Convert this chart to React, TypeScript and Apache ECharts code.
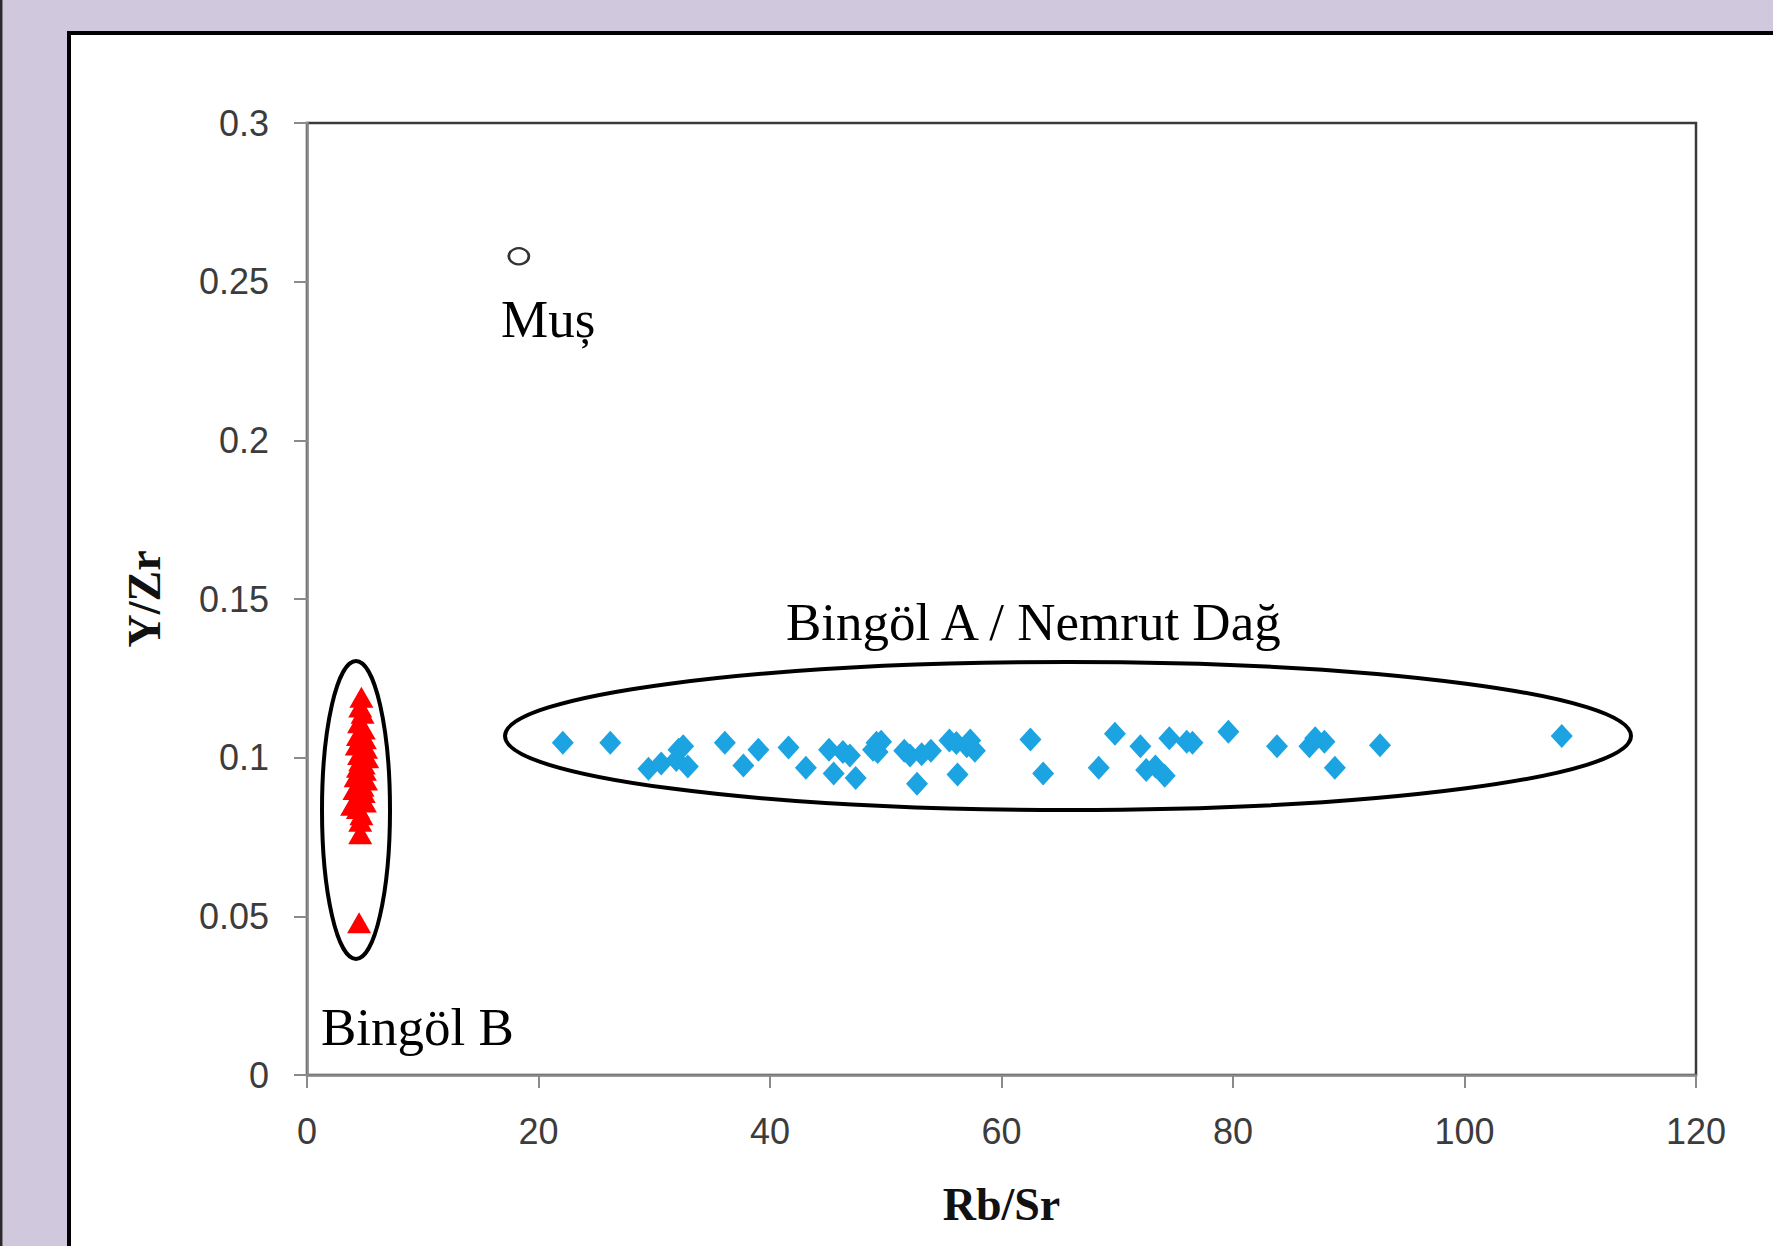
import React, { useEffect, useRef } from "react";
import * as echarts from "echarts";

// ---- data ----
const xTickValues = [0, 20, 40, 60, 80, 100, 120];
const yTickValues = [0, 0.05, 0.1, 0.15, 0.2, 0.25, 0.3];

const musX = [18.3];
const musY = [0.258];

const bingolBX = [4.7, 4.6, 4.8, 4.5, 4.9, 4.6, 4.4, 5.0, 4.7, 4.3, 5.1, 4.8, 4.5, 5.2, 4.6, 4.9, 4.4, 5.0, 4.7, 4.2, 5.1, 4.5, 4.8, 4.1, 4.9, 4.6, 4.3, 5.0, 3.9, 4.4, 4.7, 4.6, 4.6, 4.5];
const bingolBY = [0.119, 0.116, 0.114, 0.111, 0.109, 0.108, 0.107, 0.106, 0.105, 0.104, 0.103, 0.102, 0.101, 0.100, 0.099, 0.098, 0.097, 0.096, 0.095, 0.094, 0.093, 0.092, 0.091, 0.090, 0.089, 0.088, 0.087, 0.086, 0.085, 0.084, 0.082, 0.080, 0.076, 0.048];

const bingolAX = [22.1, 26.2, 29.5, 30.6, 32.1, 32.5, 31.9, 32.9, 36.1, 37.7, 39.0, 41.6, 43.1, 45.1, 45.5, 46.3, 46.9, 47.4, 48.9, 49.2, 49.6, 49.3, 51.6, 52.1, 52.7, 53.1, 53.9, 55.5, 56.1, 56.2, 57.0, 57.3, 57.7, 62.5, 63.6, 68.4, 69.8, 72.0, 72.5, 73.3, 74.1, 74.5, 76.0, 76.5, 79.6, 83.8, 86.6, 87.1, 87.9, 88.8, 92.7, 108.4];
const bingolAY = [0.1047, 0.1047, 0.0965, 0.0982, 0.1025, 0.1036, 0.0993, 0.0972, 0.1047, 0.0975, 0.1025, 0.1032, 0.0968, 0.1025, 0.0950, 0.1018, 0.1007, 0.0936, 0.1025, 0.1047, 0.1050, 0.1018, 0.1022, 0.1007, 0.0918, 0.1011, 0.1022, 0.1054, 0.1046, 0.0947, 0.1036, 0.1054, 0.1022, 0.1057, 0.0950, 0.0968, 0.1075, 0.1036, 0.0961, 0.0972, 0.0943, 0.1061, 0.1050, 0.1047, 0.1082, 0.1036, 0.1036, 0.1061, 0.1050, 0.0968, 0.1039, 0.1068];

const zip = (xs: number[], ys: number[]) => xs.map((x, i) => [x, ys[i]]);

export default function App() {
  const ref = useRef<HTMLDivElement>(null);
  useEffect(() => {
    if (!ref.current) return;
    const chart = echarts.init(ref.current, undefined, { renderer: "svg" });
    const labelFont = "'Liberation Sans', Arial, sans-serif";
    const serif = "'Liberation Serif', 'Times New Roman', serif";
    chart.setOption({
      animation: false,
      backgroundColor: "#d0c8dc",
      grid: {
        left: 307,
        top: 123,
        width: 1389,
        height: 952,
        show: true,
        backgroundColor: "#ffffff",
        borderColor: "#3a3a3a",
        borderWidth: 2.5,
        containLabel: false,
      },
      xAxis: {
        type: "value",
        min: xTickValues[0],
        max: xTickValues[xTickValues.length - 1],
        interval: 20,
        name: "Rb/Sr",
        nameLocation: "middle",
        nameGap: 106,
        nameTextStyle: { fontFamily: serif, fontWeight: "bold", fontSize: 46, color: "#111" },
        axisLine: { show: true, lineStyle: { color: "#8a8a8a", width: 2.5 } },
        axisTick: { show: true, inside: false, length: 13, lineStyle: { color: "#8a8a8a", width: 2 } },
        axisLabel: { margin: 38, fontFamily: labelFont, fontSize: 36, color: "#3c3c3c" },
        splitLine: { show: false },
      },
      yAxis: {
        type: "value",
        min: yTickValues[0],
        max: yTickValues[yTickValues.length - 1],
        interval: 0.05,
        name: "Y/Zr",
        nameLocation: "middle",
        nameGap: 140,
        nameRotate: 90,
        nameTextStyle: { fontFamily: serif, fontWeight: "bold", fontSize: 46, color: "#111" },
        axisLine: { show: true, lineStyle: { color: "#8a8a8a", width: 2.5 } },
        axisTick: { show: true, inside: false, length: 13, lineStyle: { color: "#8a8a8a", width: 2 } },
        axisLabel: {
          margin: 38,
          fontFamily: labelFont,
          fontSize: 36,
          color: "#3c3c3c",
          formatter: (v: number) => String(parseFloat(v.toFixed(2))),
        },
        splitLine: { show: false },
      },
      series: [
        {
          name: "Bingöl A / Nemrut Dağ",
          type: "scatter",
          symbol: "diamond",
          symbolSize: [22, 24],
          itemStyle: { color: "#1ba3e2", opacity: 1 },
          data: zip(bingolAX, bingolAY),
          z: 3,
        },
        {
          name: "Bingöl B",
          type: "scatter",
          symbol: "triangle",
          symbolSize: [24, 21],
          itemStyle: { color: "#ff0000", opacity: 1 },
          data: zip(bingolBX, bingolBY),
          z: 3,
        },
        {
          name: "Muş",
          type: "scatter",
          symbol: "circle",
          symbolSize: [20, 16],
          itemStyle: { color: "#ffffff", borderColor: "#333333", borderWidth: 2.5, opacity: 1 },
          data: zip(musX, musY),
          z: 3,
        },
      ],
      graphic: [
        {
          type: "rect",
          z: -10,
          silent: true,
          shape: { x: 69, y: 33, width: 1800, height: 1300 },
          style: { fill: "#ffffff", stroke: "#000000", lineWidth: 4 },
        },
        {
          type: "line",
          z: -9,
          silent: true,
          shape: { x1: 1.2, y1: 0, x2: 1.2, y2: 1246 },
          style: { stroke: "#2a2a2a", lineWidth: 2.5 },
        },
        {
          type: "ellipse",
          z: 10,
          silent: true,
          shape: { cx: 1068, cy: 736, rx: 563, ry: 74 },
          style: { fill: "none", stroke: "#000000", lineWidth: 4 },
        },
        {
          type: "ellipse",
          z: 10,
          silent: true,
          shape: { cx: 356, cy: 810, rx: 34, ry: 149 },
          style: { fill: "none", stroke: "#000000", lineWidth: 4 },
        },
        {
          type: "text",
          z: 10,
          x: 501,
          y: 319,
          style: { text: "Muș", font: `53px ${serif}`, fill: "#000", align: "left", verticalAlign: "middle" },
        },
        {
          type: "text",
          z: 10,
          x: 786,
          y: 622,
          style: { text: "Bingöl A / Nemrut Dağ", font: `53px ${serif}`, fill: "#000", align: "left", verticalAlign: "middle" },
        },
        {
          type: "text",
          z: 10,
          x: 321,
          y: 1027,
          style: { text: "Bingöl B", font: `53px ${serif}`, fill: "#000", align: "left", verticalAlign: "middle" },
        },
      ],
    });
    return () => chart.dispose();
  }, []);
  return (
    <div
      ref={ref}
      style={{ position: "fixed", left: 0, top: 0, width: 1773, height: 1246 }}
    />
  );
}
